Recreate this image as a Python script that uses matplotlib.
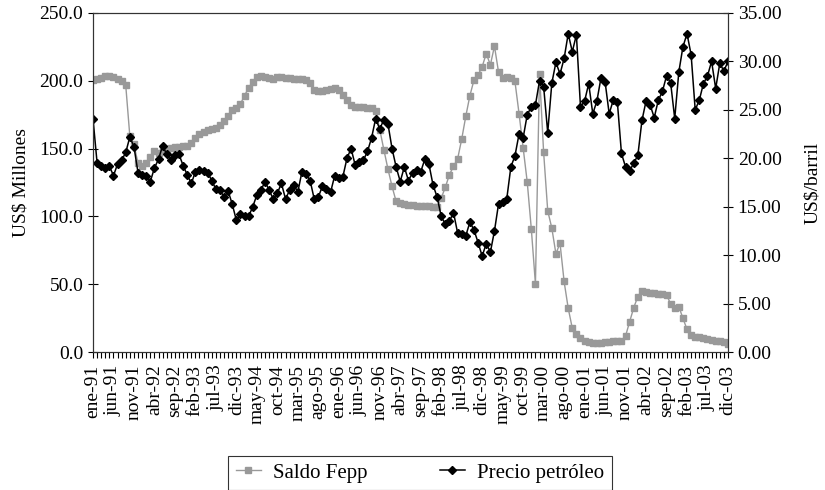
import matplotlib
matplotlib.use("Agg")
import matplotlib.pyplot as plt
from matplotlib.ticker import FixedLocator, MultipleLocator, FormatStrFormatter

plt.rcParams["font.family"] = ["Liberation Serif", "DejaVu Serif"]

# monthly, ene-91 .. dic-03
meses = ["ene", "feb", "mar", "abr", "may", "jun", "jul", "ago", "sep", "oct", "nov", "dic"]
anios = list(range(1991, 2004))

# Saldo Fepp, US$ millones (left axis)
saldo_fepp = [
    200.5, 201.0, 202.0, 203.5, 203.5, 203.0, 201.5, 199.5, 196.5, 159.0,
    153.0, 139.0, 137.5, 139.5, 144.0, 148.5, 147.0, 148.7, 149.7, 150.4,
    151.0, 151.2, 151.6, 152.1, 154.0, 157.8, 160.8, 162.2, 163.4, 164.4,
    165.2, 167.7, 170.6, 173.8, 178.7, 180.0, 183.0, 189.0, 195.0, 199.0,
    202.5, 203.3, 202.6, 202.1, 201.6, 203.0, 202.6, 202.1, 201.8, 201.3,
    201.3, 201.0, 200.5, 198.5, 193.5, 192.8, 192.8, 193.0, 194.0, 194.7,
    193.0, 189.8, 186.1, 182.4, 180.7, 180.4, 180.4, 180.0, 179.7, 178.0,
    164.0, 149.2, 134.9, 122.1, 111.0, 109.8, 109.1, 108.6, 108.3, 108.0,
    107.8, 107.6, 107.4, 107.2, 106.9, 113.5, 121.4, 130.7, 136.9, 142.3,
    156.9, 173.8, 189.0, 200.5, 204.2, 210.4, 220.0, 211.7, 225.5, 206.3,
    202.1, 202.8, 202.1, 199.5, 175.8, 150.5, 125.3, 90.6, 50.2, 205.3,
    147.3, 104.1, 91.4, 72.4, 80.3, 52.0, 32.3, 17.5, 13.3, 10.1,
    8.4, 7.2, 6.4, 6.4, 6.9, 7.2, 7.4, 7.9, 8.1, 8.4,
    11.8, 22.4, 32.7, 40.9, 45.1, 44.6, 43.8, 43.3, 42.8, 42.6,
    42.1, 35.5, 32.3, 33.5, 24.9, 16.7, 12.6, 11.3, 10.8, 10.1,
    9.4, 8.9, 8.4, 7.9, 7.4, 5.7,
]

# Precio petroleo, US$/barril (right axis)
precio_petroleo = [
    24.1, 19.55, 19.2, 19.0, 19.2, 18.2, 19.4, 19.8, 20.6, 22.2,
    21.2, 18.5, 18.3, 18.2, 17.6, 19.0, 19.9, 21.3, 20.4, 19.8,
    20.35, 20.4, 19.25, 18.3, 17.4, 18.6, 18.8, 18.7, 18.5, 17.7,
    16.8, 16.7, 16.0, 16.6, 15.25, 13.6, 14.2, 14.0, 14.0, 15.0,
    16.2, 16.7, 17.6, 16.7, 15.8, 16.4, 17.4, 15.8, 16.7, 17.25,
    16.5, 18.6, 18.4, 17.7, 15.8, 16.0, 17.1, 16.8, 16.5, 18.2,
    18.0, 18.1, 20.0, 21.0, 19.3, 19.6, 19.8, 20.7, 22.1, 24.1,
    23.0, 24.0, 23.55, 21.0, 19.1, 17.6, 19.1, 17.7, 18.5, 18.8,
    18.6, 19.9, 19.4, 17.25, 16.0, 14.0, 13.2, 13.5, 14.4, 12.3,
    12.2, 12.0, 13.4, 12.6, 11.3, 9.9, 11.2, 10.3, 12.5, 15.3,
    15.5, 15.8, 19.1, 20.25, 22.5, 22.1, 24.5, 25.3, 25.5, 28.0,
    27.4, 22.65, 27.75, 29.9, 28.7, 30.3, 32.85, 31.0, 32.75, 25.3,
    25.9, 27.7, 24.6, 25.9, 28.3, 27.9, 24.6, 26.0, 25.8, 20.5,
    19.1, 18.7, 19.5, 20.3, 23.9, 25.9, 25.5, 24.2, 26.0, 26.9,
    28.5, 27.8, 24.1, 28.9, 31.5, 32.85, 30.7, 25.0, 26.0, 27.7,
    28.5, 30.0, 27.2, 29.8, 29.0, 30.0,
]

fechas = [f"{m}-{str(a)[2:]}" for a in anios for m in meses]
x = list(range(len(fechas)))

fig = plt.figure(figsize=(8.25, 4.9), dpi=100)
ax = fig.add_axes([0.1127, 0.2816, 0.7697, 0.692])
ax2 = ax.twinx()

gris = "#999999"
l1, = ax.plot(x, saldo_fepp, color=gris, lw=1.0, marker="s", ms=4.6,
              mec=gris, mfc=gris, label="Saldo Fepp")
l2, = ax2.plot(x, precio_petroleo, color="black", lw=1.1, marker="D", ms=4.2,
               mec="black", mfc="black", label="Precio petróleo")

ax.set_xlim(0, len(x) - 1)
ax.set_ylim(0, 250)
ax2.set_ylim(0, 35)

ax.yaxis.set_major_locator(MultipleLocator(50))
ax.yaxis.set_major_formatter(FormatStrFormatter("%.1f"))
ax2.yaxis.set_major_locator(MultipleLocator(5))
ax2.yaxis.set_major_formatter(FormatStrFormatter("%.2f"))

# every month has a tick, every fifth month a label
ax.xaxis.set_major_locator(FixedLocator(x[::5]))
ax.set_xticklabels(fechas[::5], rotation=90)
ax.xaxis.set_minor_locator(FixedLocator(x))
ax.tick_params(axis="x", which="both", direction="out", length=4, width=0.8,
               labelsize=14, pad=5)
ax.tick_params(axis="y", direction="inout", length=7, width=0.8, labelsize=14)
ax2.tick_params(axis="y", direction="inout", length=7, width=0.8, labelsize=14)

for s in list(ax.spines.values()) + list(ax2.spines.values()):
    s.set_linewidth(0.8)
    s.set_color("#333333")

ax.set_ylabel("US$ Millones", fontsize=14, labelpad=7)
ax2.set_ylabel("US$/barril", fontsize=14, labelpad=16)

# legend box stretched to the width used in the original
leg = fig.legend([l1, l2], ["Saldo Fepp", "Precio petróleo"], loc="center",
                 bbox_to_anchor=(218 / 825, 0.0, 404 / 825, 0.07), mode="expand",
                 ncol=2, prop={"family": "Liberation Serif", "size": 15},
                 frameon=True, fancybox=False, edgecolor="black",
                 handlelength=1.2, handletextpad=0.6, borderpad=0.35)
leg.get_frame().set_linewidth(0.8)

fig.savefig("out.png", dpi=100)
